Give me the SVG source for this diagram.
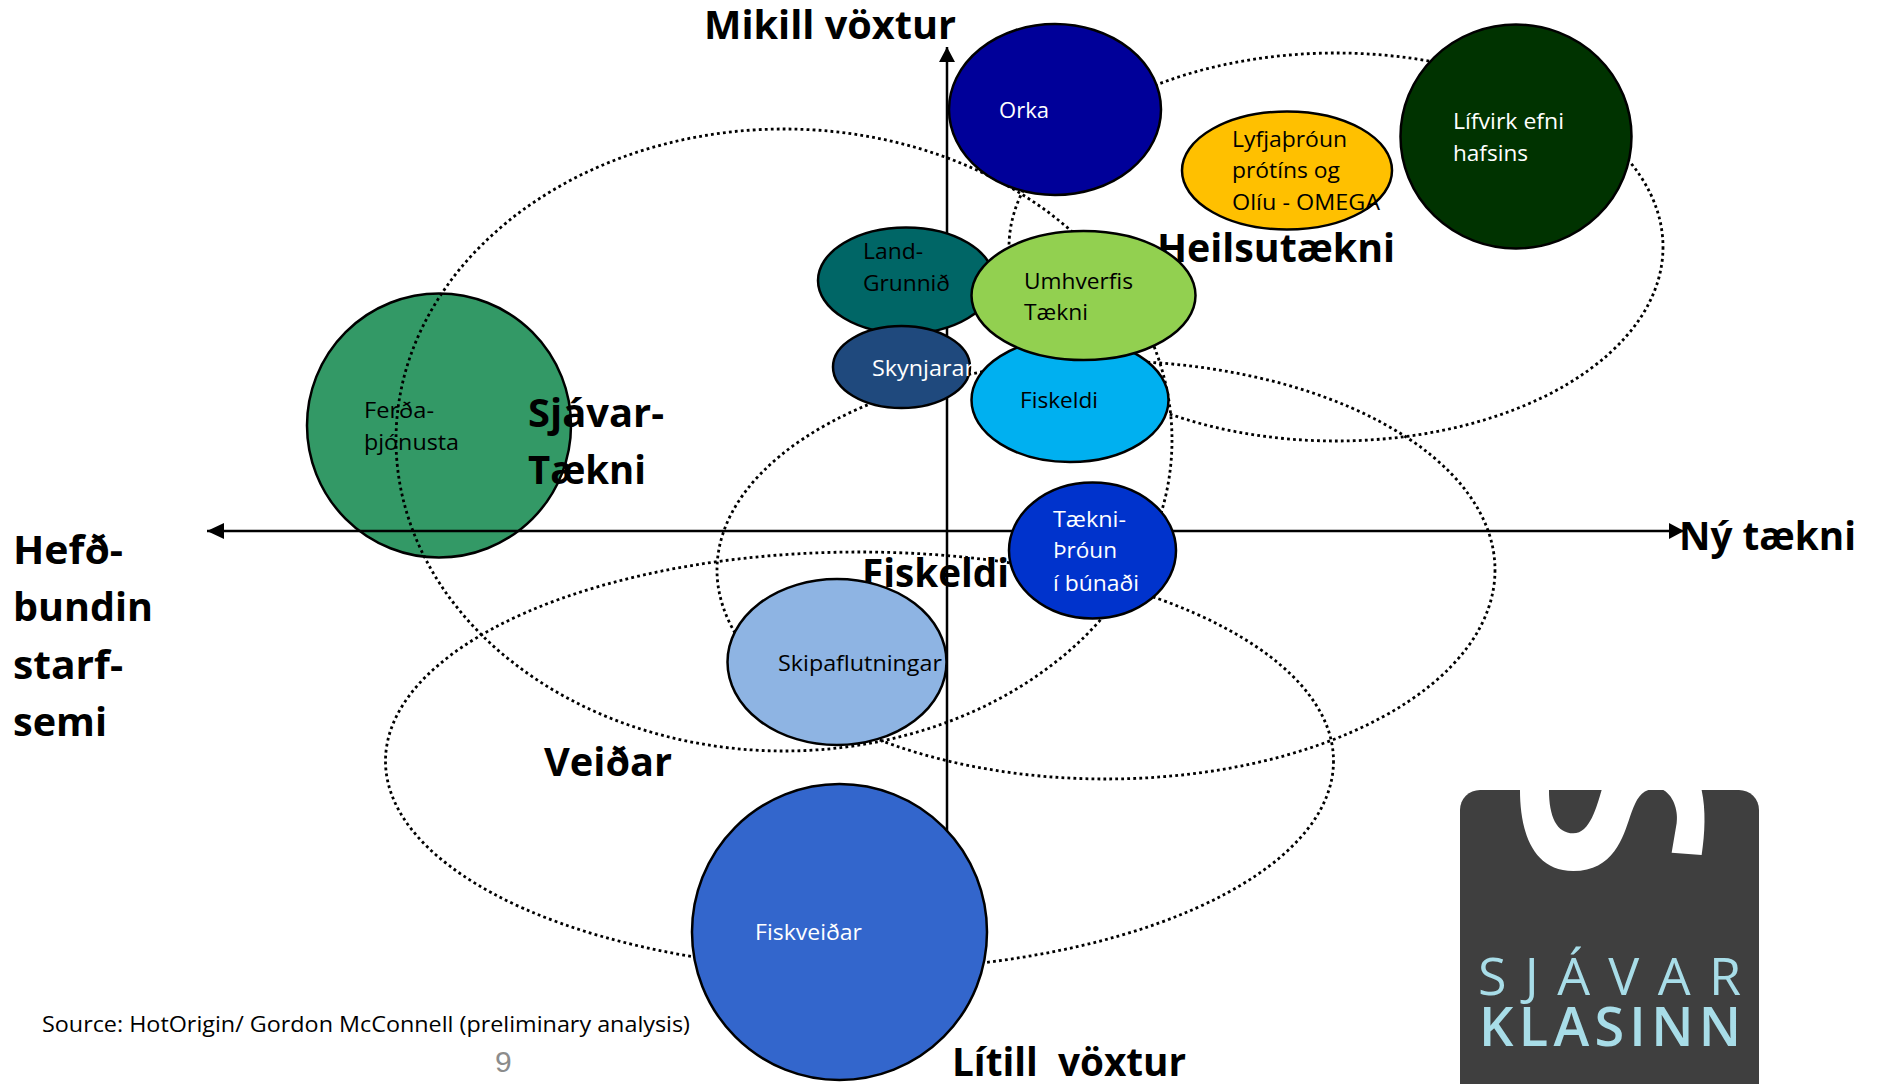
<svg xmlns="http://www.w3.org/2000/svg" width="1879" height="1084" viewBox="0 0 1879 1084">
<style>
text{font-family:"Open Sans","Noto Sans","Liberation Sans",sans-serif;fill:#000}
.n{stroke:#000;stroke-width:2.5}
.t{font-size:22px}
.w{fill:#fff}
.b{font-size:40px;font-weight:700}
.d{fill:none;stroke:#000;stroke-width:2.8;stroke-dasharray:2.8 3.2}
.a{fill:none;stroke:#000;stroke-width:2.5}
.l{fill:#a8dde8}
</style>
<defs>
<marker id="arrow" markerUnits="userSpaceOnUse" markerWidth="16" markerHeight="16" refX="15" refY="8" orient="auto"><path d="M0,0L15,8L0,16Z" fill="#000"/></marker>
</defs>
<rect width="1879" height="1084" fill="#fff"/>
<g id="node-ferda">
<ellipse class="n" cx="439" cy="425.500" rx="132" ry="132" fill="#339966"/>
<text class="t" x="364" y="418" textLength="70" lengthAdjust="spacingAndGlyphs">Ferða-</text>
<text class="t" x="364" y="450" textLength="95" lengthAdjust="spacingAndGlyphs">þjónusta</text>
</g>
<g id="connectors">
<ellipse class="d" cx="784" cy="440" rx="388" ry="311"/>
<ellipse class="d" cx="1336" cy="247" rx="327" ry="194"/>
<ellipse class="d" cx="1106" cy="570" rx="389" ry="209"/>
<ellipse class="d" cx="859.500" cy="761" rx="474" ry="209"/>
<line class="a" x1="947" y1="860" x2="947" y2="47" marker-end="url(#arrow)"/>
<line class="a" x1="207" y1="531" x2="1684" y2="531" marker-end="url(#arrow)"/>
<path d="M207,531L224,523V539Z" fill="#000"/>
</g>
<g id="labels">
<text class="b" x="704" y="39" textLength="252" lengthAdjust="spacingAndGlyphs">Mikill vöxtur</text>
<text class="b" x="952" y="1076" textLength="234" lengthAdjust="spacingAndGlyphs" xml:space="preserve">Lítill  vöxtur</text>
<text class="b" x="1679" y="550" textLength="177" lengthAdjust="spacingAndGlyphs">Ný tækni</text>
<text class="b" x="13" y="564" textLength="110" lengthAdjust="spacingAndGlyphs">Hefð-</text>
<text class="b" x="13" y="621" textLength="140" lengthAdjust="spacingAndGlyphs">bundin</text>
<text class="b" x="13" y="679" textLength="110" lengthAdjust="spacingAndGlyphs">starf-</text>
<text class="b" x="13" y="736" textLength="94" lengthAdjust="spacingAndGlyphs">semi</text>
<text class="b" x="528" y="427" textLength="136" lengthAdjust="spacingAndGlyphs">Sjávar-</text>
<text class="b" x="528" y="484" textLength="118" lengthAdjust="spacingAndGlyphs">Tækni</text>
<text class="b" x="862" y="587" textLength="147" lengthAdjust="spacingAndGlyphs">Fiskeldi</text>
<text class="b" x="544" y="776" textLength="128" lengthAdjust="spacingAndGlyphs">Veiðar</text>
<text class="b" x="1157" y="262" textLength="238" lengthAdjust="spacingAndGlyphs">Heilsutækni</text>
<text class="t" x="42" y="1032" textLength="648" lengthAdjust="spacingAndGlyphs">Source: HotOrigin/ Gordon McConnell (preliminary analysis)</text>
<text x="495" y="1072" style="font-family:'Liberation Sans',sans-serif;font-size:30px;fill:#8c8c8c">9</text>
</g>
<g id="node-orka">
<ellipse class="n" cx="1055" cy="109.500" rx="106" ry="85.500" fill="#000099"/>
<text class="t w" x="999" y="118" textLength="50" lengthAdjust="spacingAndGlyphs">Orka</text>
</g>
<g id="node-lifvirk">
<ellipse class="n" cx="1516" cy="136.500" rx="115.500" ry="112" fill="#003300"/>
<text class="t w" x="1453" y="129" textLength="111" lengthAdjust="spacingAndGlyphs">Lífvirk efni</text>
<text class="t w" x="1453" y="161" textLength="75" lengthAdjust="spacingAndGlyphs">hafsins</text>
</g>
<g id="node-lyfja">
<ellipse class="n" cx="1287" cy="170.500" rx="105" ry="59" fill="#FFC000"/>
<text class="t" x="1232" y="147" textLength="115" lengthAdjust="spacingAndGlyphs">Lyfjaþróun</text>
<text class="t" x="1232" y="178" textLength="108" lengthAdjust="spacingAndGlyphs">prótíns og</text>
<text class="t" x="1232" y="210" textLength="148" lengthAdjust="spacingAndGlyphs">Olíu - OMEGA</text>
</g>
<g id="node-land">
<ellipse class="n" cx="906" cy="280.500" rx="88" ry="53" fill="#006666"/>
<text class="t" x="863" y="259" textLength="60" lengthAdjust="spacingAndGlyphs">Land-</text>
<text class="t" x="863" y="291" textLength="87" lengthAdjust="spacingAndGlyphs">Grunnið</text>
</g>
<g id="node-fiskeldi">
<ellipse class="n" cx="1070" cy="400" rx="98.500" ry="62" fill="#00B0F0"/>
<text class="t" x="1020" y="408" textLength="78" lengthAdjust="spacingAndGlyphs">Fiskeldi</text>
</g>
<g id="node-umhverfis">
<ellipse class="n" cx="1083.500" cy="295.500" rx="112" ry="64.500" fill="#92D050"/>
<text class="t" x="1024" y="289" textLength="109" lengthAdjust="spacingAndGlyphs">Umhverfis</text>
<text class="t" x="1024" y="320" textLength="64" lengthAdjust="spacingAndGlyphs">Tækni</text>
</g>
<g id="node-skynjarar">
<ellipse class="n" cx="901.500" cy="367" rx="68.500" ry="41" fill="#1F497D"/>
<text class="t w" x="872" y="376" textLength="102" lengthAdjust="spacingAndGlyphs">Skynjarar</text>
</g>
<g id="node-taekni">
<ellipse class="n" cx="1092.500" cy="550.500" rx="83.500" ry="68" fill="#0033CC"/>
<text class="t w" x="1053" y="527" textLength="73" lengthAdjust="spacingAndGlyphs">Tækni-</text>
<text class="t w" x="1053" y="558" textLength="64" lengthAdjust="spacingAndGlyphs">Þróun</text>
<text class="t w" x="1053" y="591" textLength="86" lengthAdjust="spacingAndGlyphs">í búnaði</text>
</g>
<g id="node-skipa">
<ellipse class="n" cx="837" cy="662" rx="109.500" ry="83" fill="#8EB4E3"/>
<text class="t" x="778" y="671" textLength="164" lengthAdjust="spacingAndGlyphs">Skipaflutningar</text>
</g>
<g id="node-fiskveidar">
<ellipse class="n" cx="839.500" cy="932" rx="147.500" ry="148" fill="#3366CC"/>
<text class="t w" x="755" y="940" textLength="107" lengthAdjust="spacingAndGlyphs">Fiskveiðar</text>
</g>
<g id="logo">
<path d="M1460,1084V810a20,20 0 0 1 20,-20H1739a20,20 0 0 1 20,20V1084Z" fill="#3f3f3f"/>
<g transform="translate(1400,760) scale(.3333)" fill="#fff">
<path d="M360,90C360,200 390,333 520,333C640,333 670,230 690,170C705,130 715,100 745,90H605C590,140 570,220 520,220C470,220 447,170 447,90Z"/>
<path d="M790,90C825,110 835,160 830,190L815,278L905,285C915,220 918,150 905,90Z"/>
</g>
<text class="l" x="1478" y="995" textLength="263" style="font-size:52px;font-weight:400">SJÁVAR</text>
<text class="l" x="1479" y="1046" textLength="262" style="font-size:54px;font-weight:600">KLASINN</text>
</g>
</svg>
